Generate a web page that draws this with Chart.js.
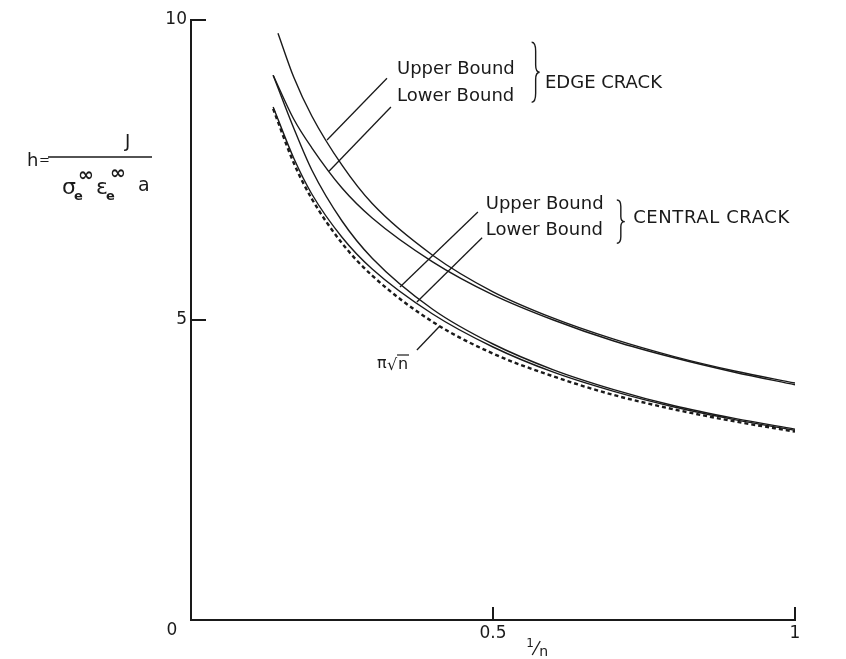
<!DOCTYPE html>
<html>
<head>
<meta charset="utf-8">
<script src="https://cdn.jsdelivr.net/npm/chart.js@4.4.0/dist/chart.umd.min.js"></script>
<style>
html,body{margin:0;padding:0;background:#ffffff;}
#wrap{width:846px;height:659px;position:relative;}
</style>
</head>
<body>
<div id="wrap"><canvas id="c" width="846" height="659"></canvas></div>
<script>
// ---- data (x = 1/n, y = h) ----
const xEdgeUpper   = [0.144, 0.17, 0.2, 0.25, 0.3, 0.4, 0.5, 0.6, 0.7, 0.8, 0.9, 1.0];
const edgeUpper    = [9.78, 9.05, 8.4, 7.58, 6.94, 6.08, 5.47, 5.03, 4.68, 4.39, 4.15, 3.95];

const xEdgeLower   = [0.136, 0.17, 0.2, 0.25, 0.3, 0.4, 0.5, 0.6, 0.7, 0.8, 0.9, 1.0];
const edgeLower    = [9.08, 8.35, 7.87, 7.2, 6.7, 5.97, 5.42, 5.0, 4.65, 4.37, 4.13, 3.92];

const xCentralUpper = [0.136, 0.17, 0.2, 0.25, 0.3, 0.4, 0.5, 0.6, 0.7, 0.8, 0.9, 1.0];
const centralUpper  = [9.08, 8.2, 7.5, 6.65, 6.03, 5.18, 4.6, 4.17, 3.84, 3.57, 3.36, 3.18];

const xCentralLower = [0.136, 0.17, 0.2, 0.25, 0.3, 0.4, 0.5, 0.6, 0.7, 0.8, 0.9, 1.0];
const centralLower  = [8.55, 7.7, 7.1, 6.38, 5.85, 5.1, 4.55, 4.13, 3.81, 3.55, 3.34, 3.16];

const xPiRootN = [0.136, 0.17, 0.2, 0.25, 0.3, 0.4, 0.5, 0.6, 0.7, 0.8, 0.9, 1.0];
const piRootN  = [8.52, 7.62, 7.02, 6.28, 5.74, 4.97, 4.44, 4.06, 3.75, 3.51, 3.31, 3.14];

const xTickValues = [0.5, 1];
const xTickLabels = ['0.5', '1'];
const yTickValues = [5, 10];
const yTickLabels = ['5', '10'];

function pts(xs, ys){ return xs.map((x,i)=>({x:x, y:ys[i]})); }

const INK = '#1a1a1a';
const FONT = '"DejaVu Sans", "Liberation Sans", sans-serif';

const decor = {
  id: 'decor',
  afterDraw(chart){
    const ctx = chart.ctx;
    const sx = chart.scales.x, sy = chart.scales.y;
    const X = v => sx.getPixelForValue(v);
    const Y = v => sy.getPixelForValue(v);
    ctx.save();
    ctx.strokeStyle = INK; ctx.fillStyle = INK;

    // inward tick marks
    ctx.lineWidth = 2;
    yTickValues.forEach(v=>{ ctx.beginPath(); ctx.moveTo(X(0), Y(v)); ctx.lineTo(X(0)+15, Y(v)); ctx.stroke(); });
    xTickValues.forEach(v=>{ ctx.beginPath(); ctx.moveTo(X(v), Y(0)); ctx.lineTo(X(v), Y(0)-13); ctx.stroke(); });

    // origin label
    ctx.font = '17px ' + FONT; ctx.textAlign = 'center'; ctx.textBaseline = 'middle';
    ctx.fillText('0', X(0)-19, Y(0)+11);

    // x-axis title 1/n
    ctx.font = '12px ' + FONT; ctx.textAlign = 'left'; ctx.textBaseline = 'alphabetic';
    ctx.fillText('1', X(0.555), Y(0)+27);
    ctx.lineWidth = 1.3;
    ctx.beginPath(); ctx.moveTo(X(0.555)+6, Y(0)+35); ctx.lineTo(X(0.555)+14, Y(0)+21); ctx.stroke();
    ctx.font = '14px ' + FONT;
    ctx.fillText('n', X(0.555)+13, Y(0)+36);

    // y-axis title  h = J / (σe∞ εe∞ a)
    ctx.font = '18px ' + FONT; ctx.textBaseline = 'alphabetic';
    ctx.fillText('h', 27, 166);
    ctx.font = '13px ' + FONT;
    ctx.fillText('=', 39, 164);
    ctx.lineWidth = 1.4;
    ctx.beginPath(); ctx.moveTo(48, 157); ctx.lineTo(152, 157); ctx.stroke();
    ctx.font = '18px ' + FONT;
    ctx.fillText('J', 125, 147);
    ctx.font = '22px ' + FONT;
    ctx.fillText('σ', 62, 194);
    ctx.font = 'bold 13px ' + FONT;
    ctx.fillText('e', 74, 200);
    ctx.font = 'bold 19px ' + FONT;
    ctx.fillText('∞', 78, 181);
    ctx.font = '22px ' + FONT;
    ctx.fillText('ε', 96, 194);
    ctx.font = 'bold 13px ' + FONT;
    ctx.fillText('e', 106, 200);
    ctx.font = 'bold 19px ' + FONT;
    ctx.fillText('∞', 110, 179);
    ctx.font = '19px ' + FONT;
    ctx.fillText('a', 138, 191);

    // leader lines
    ctx.lineWidth = 1.3;
    const seg = (x1,y1,x2,y2)=>{ ctx.beginPath(); ctx.moveTo(X(x1),Y(y1)); ctx.lineTo(X(x2),Y(y2)); ctx.stroke(); };
    seg(0.3245, 9.03, 0.2252, 8.0);   // edge upper
    seg(0.331, 8.55, 0.2285, 7.48);   // edge lower
    seg(0.475, 6.8, 0.346, 5.55);     // central upper
    seg(0.482, 6.37, 0.374, 5.3);     // central lower
    seg(0.374, 4.5, 0.412, 4.9);      // pi sqrt n

    // labels
    ctx.font = '18px ' + FONT; ctx.textBaseline = 'middle'; ctx.textAlign = 'left';
    ctx.fillText('Upper Bound', X(0.341), Y(9.17));
    ctx.fillText('Lower Bound', X(0.341), Y(8.72));
    ctx.fillText('EDGE CRACK', X(0.586), Y(8.95));
    ctx.fillText('Upper Bound', X(0.488), Y(6.92));
    ctx.fillText('Lower Bound', X(0.488), Y(6.5));
    try { ctx.letterSpacing = '0.6px'; } catch(e) {}
    ctx.fillText('CENTRAL CRACK', X(0.732), Y(6.7));
    try { ctx.letterSpacing = '0px'; } catch(e) {}

    // braces
    const brace = (x, yT, yB, w)=>{
      const h = yB - yT, m = (yT+yB)/2, c = x + w*0.5;
      ctx.lineWidth = 1.4;
      ctx.beginPath();
      ctx.moveTo(x, yT);
      ctx.quadraticCurveTo(c, yT, c, yT + h*0.15);
      ctx.lineTo(c, m - h*0.12);
      ctx.quadraticCurveTo(c, m, x + w, m);
      ctx.quadraticCurveTo(c, m, c, m + h*0.12);
      ctx.lineTo(c, yB - h*0.15);
      ctx.quadraticCurveTo(c, yB, x, yB);
      ctx.stroke();
    };
    brace(X(0.564), Y(9.63), Y(8.63), 8);
    brace(X(0.705), Y(7.0), Y(6.28), 8);

    // pi sqrt n label
    ctx.font = '16px ' + FONT; ctx.textBaseline = 'alphabetic';
    const lx = X(0.308), ly = Y(4.2);
    ctx.fillText('π', lx, ly);
    ctx.fillText('√', lx+10, ly+2);
    ctx.fillText('n', lx+21, ly+1);
    ctx.lineWidth = 1.2;
    ctx.beginPath(); ctx.moveTo(lx+20, ly-13); ctx.lineTo(lx+32, ly-13); ctx.stroke();
    ctx.restore();
  }
};

const solid = { borderColor: INK, borderWidth: 1.4, pointRadius: 0, showLine: true, cubicInterpolationMode: 'monotone', fill: false };

new Chart(document.getElementById('c'), {
  type: 'scatter',
  data: {
    datasets: [
      Object.assign({label: 'Edge crack upper bound', data: pts(xEdgeUpper, edgeUpper)}, solid),
      Object.assign({label: 'Edge crack lower bound', data: pts(xEdgeLower, edgeLower)}, solid),
      Object.assign({label: 'Central crack upper bound', data: pts(xCentralUpper, centralUpper)}, solid),
      Object.assign({label: 'Central crack lower bound', data: pts(xCentralLower, centralLower)}, solid),
      Object.assign({label: 'π√n', data: pts(xPiRootN, piRootN)}, solid, {borderWidth: 2.4, borderDash: [4, 3]})
    ]
  },
  options: {
    responsive: false,
    animation: false,
    devicePixelRatio: 1,
    layout: { padding: { left: 0, right: 51, top: 20, bottom: 0 } },
    plugins: { legend: { display: false }, tooltip: { enabled: false } },
    scales: {
      x: {
        type: 'linear', min: 0, max: 1,
        afterBuildTicks: s => { s.ticks = xTickValues.map(v => ({value: v})); },
        afterFit: s => { s.height = 39; },
        ticks: { color: INK, font: { family: FONT, size: 17 }, padding: 3,
                 callback: (v) => { const i = xTickValues.indexOf(v); return i >= 0 ? xTickLabels[i] : ''; } },
        grid: { display: true, drawOnChartArea: false, drawTicks: false },
        border: { display: true, color: INK, width: 2 }
      },
      y: {
        type: 'linear', min: 0, max: 10,
        afterBuildTicks: s => { s.ticks = yTickValues.map(v => ({value: v})); },
        afterFit: s => { s.width = 191; },
        ticks: { color: INK, font: { family: FONT, size: 17 }, padding: 4,
                 callback: (v) => { const i = yTickValues.indexOf(v); return i >= 0 ? yTickLabels[i] : ''; } },
        grid: { display: true, drawOnChartArea: false, drawTicks: false },
        border: { display: true, color: INK, width: 2 }
      }
    }
  },
  plugins: [decor]
});
</script>
</body>
</html>
